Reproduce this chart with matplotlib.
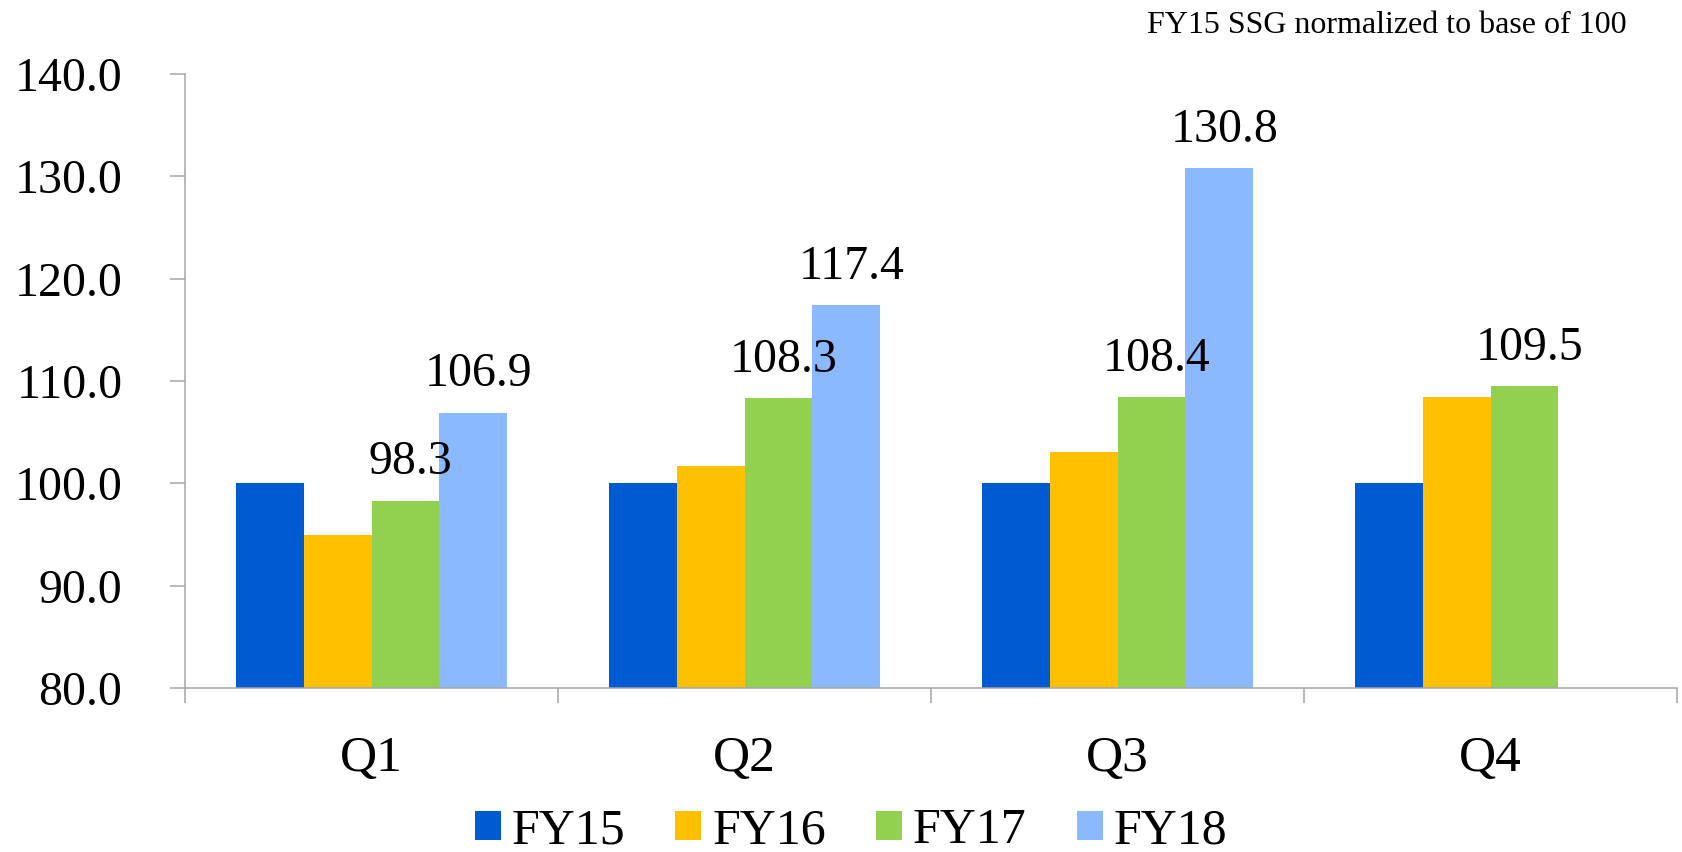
import matplotlib
matplotlib.use("Agg")
import matplotlib.pyplot as plt
import numpy as np

categories = ["Q1", "Q2", "Q3", "Q4"]
series = ["FY15", "FY16", "FY17", "FY18"]
fy15 = [100.0, 100.0, 100.0, 100.0]
fy16 = [95.0, 101.7, 103.1, 108.4]
fy17 = [98.3, 108.3, 108.4, 109.5]
fy18 = [106.9, 117.4, 130.8, None]
labeled = [False, False, True, True]
colors = ["#005AD2", "#FFC000", "#92D050", "#8AB9FF"]
yticks = [80, 90, 100, 110, 120, 130, 140]
note = "FY15 SSG normalized to base of 100"

font = "Liberation Serif"
plt.rcParams["font.family"] = [font, "DejaVu Serif"]

fig = plt.figure(figsize=(16.82, 8.52), dpi=100)
ax = fig.add_axes([185/1682, 1-688/852, (1677-185)/1682, (688-74)/852])

data = [fy15, fy16, fy17, fy18]
x = np.arange(len(categories))
w = 0.181
for j, (vals, col, name) in enumerate(zip(data, colors, series)):
    xs = [xi + (j-1.5)*w for xi, v in zip(x, vals) if v is not None]
    vs = [v for v in vals if v is not None]
    ax.bar(xs, [v - 80 for v in vs], bottom=80, width=w, color=col, label=name,
           edgecolor="none", zorder=2)
    if labeled[j]:
        for xi, v in zip(xs, vs):
            ax.annotate(f"{v:.1f}", (xi, v), xytext=(4, 19), textcoords="offset points",
                        ha="center", va="baseline", fontsize=34.5, color="black")

ax.set_xlim(-0.5, 3.5)
ax.set_ylim(80, 140)
ax.set_yticks(yticks)
ax.set_yticklabels([f"{t:.1f}" for t in yticks])
ax.set_xticks(x)
ax.set_xticklabels(categories)
ax.set_xticks(np.arange(-0.5, 4.0, 1.0), minor=True)

for s in ["top", "right"]:
    ax.spines[s].set_visible(False)
for s in ["left", "bottom"]:
    ax.spines[s].set_color("#A6A6A6")
    ax.spines[s].set_linewidth(1.1)

ax.tick_params(axis="y", length=11, width=1.1, color="#A6A6A6", pad=34, labelsize=34.5)
ax.tick_params(axis="x", which="major", length=0, pad=34, labelsize=37)
ax.tick_params(axis="x", which="minor", length=11, width=1.1, color="#A6A6A6")

fig.text(1627/1682, 1-33/852, note, ha="right", va="baseline", fontsize=23)

leg = fig.legend(loc="center", bbox_to_anchor=(851/1682, 1-831/852), ncol=4,
                 frameon=False, fontsize=36, handlelength=0.52, handleheight=0.52,
                 handletextpad=0.22, columnspacing=1.0, borderaxespad=0, borderpad=0)

fig.savefig("out.png", dpi=100)
